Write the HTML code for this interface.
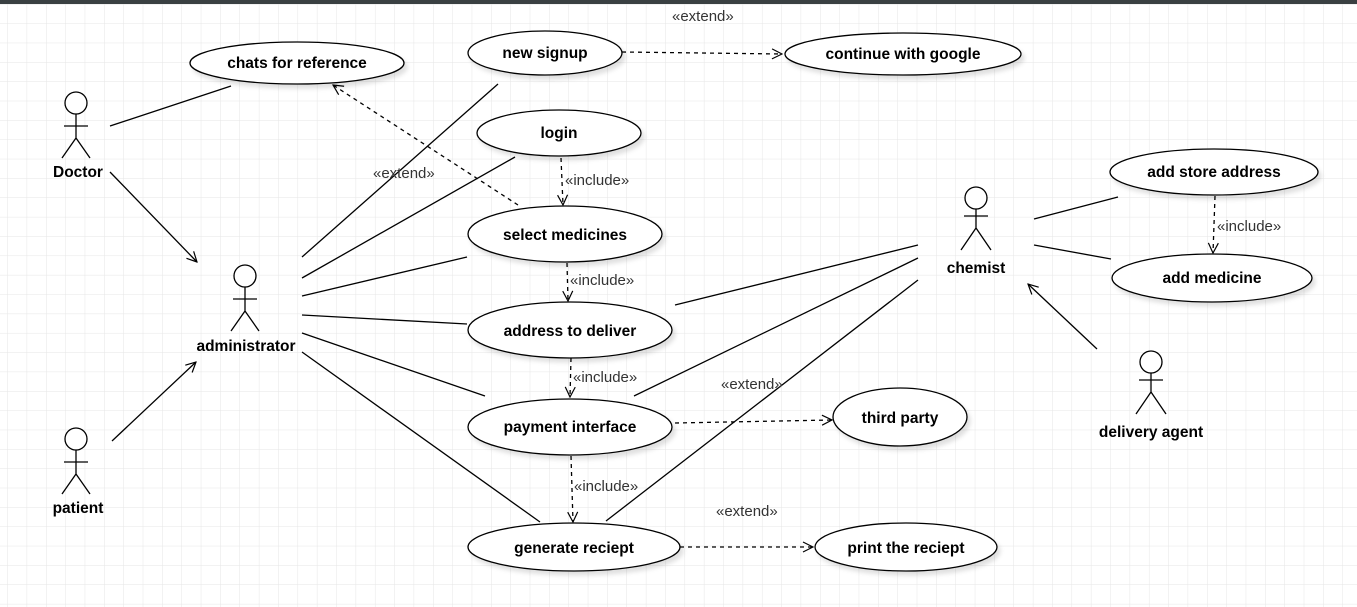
<!DOCTYPE html>
<html><head><meta charset="utf-8"><style>
html,body{margin:0;padding:0;background:#fff}
svg{display:block}
text{font-family:"Liberation Sans",Arial,sans-serif}
.u{font-weight:bold;font-size:15.5px;text-anchor:middle;fill:#000}
.s{font-size:15px;fill:#333}
</style></head><body>
<svg width="1357" height="607" viewBox="0 0 1357 607" xmlns="http://www.w3.org/2000/svg">
<defs>
<pattern id="g" x="7.3" y="4" width="19.35" height="19.35" patternUnits="userSpaceOnUse">
<path d="M0 0V19.35M0 0H19.35" stroke="#e6e6e6" stroke-width="1" fill="none"/>
</pattern>
<marker id="a" viewBox="0 0 12 12" refX="11" refY="6" markerWidth="12" markerHeight="12" orient="auto" markerUnits="userSpaceOnUse">
<path d="M1 1L11 6L1 11" fill="none" stroke="#000" stroke-width="1.2"/>
</marker>
<filter id="sh" x="-10%" y="-20%" width="130%" height="160%"><feDropShadow dx="3" dy="4" stdDeviation="2" flood-color="#000" flood-opacity="0.12"/></filter>
</defs>
<rect width="1357" height="607" fill="#fff"/>
<rect y="4" width="1357" height="603" fill="url(#g)"/>
<rect width="1357" height="4" fill="#3a4042"/>

<g stroke="#000" stroke-width="1.3" fill="none">
<line x1="110" y1="126" x2="231" y2="86"/>
<line x1="110" y1="172" x2="197" y2="262" marker-end="url(#a)"/>
<line x1="112" y1="441" x2="196" y2="362" marker-end="url(#a)"/>
<line x1="302" y1="257" x2="498" y2="84"/>
<line x1="302" y1="278" x2="515" y2="157"/>
<line x1="302" y1="296" x2="467" y2="257"/>
<line x1="302" y1="315" x2="467" y2="324"/>
<line x1="302" y1="333" x2="485" y2="396"/>
<line x1="302" y1="352" x2="540" y2="522"/>
<line x1="675" y1="305" x2="918" y2="245"/>
<line x1="634" y1="396" x2="918" y2="258"/>
<line x1="606" y1="521" x2="918" y2="280"/>
<line x1="1034" y1="219" x2="1118" y2="197"/>
<line x1="1034" y1="245" x2="1111" y2="259"/>
<line x1="1097" y1="349" x2="1028" y2="284" marker-end="url(#a)"/>
<g stroke-dasharray="4,4">
<line x1="622" y1="52" x2="782" y2="54" marker-end="url(#a)"/>
<line x1="518" y1="205" x2="333" y2="85" marker-end="url(#a)"/>
<line x1="561" y1="158" x2="563" y2="205" marker-end="url(#a)"/>
<line x1="567" y1="263" x2="568" y2="301" marker-end="url(#a)"/>
<line x1="571" y1="358" x2="570" y2="397" marker-end="url(#a)"/>
<line x1="571" y1="456" x2="573" y2="522" marker-end="url(#a)"/>
<line x1="675" y1="423" x2="832" y2="420" marker-end="url(#a)"/>
<line x1="680" y1="547" x2="813" y2="547" marker-end="url(#a)"/>
<line x1="1215" y1="196" x2="1213" y2="253" marker-end="url(#a)"/>
</g>
</g>

<g fill="#fff" stroke="#000" stroke-width="1.3" filter="url(#sh)">
<ellipse cx="297" cy="63" rx="107" ry="21"/>
<ellipse cx="545" cy="53" rx="77" ry="22"/>
<ellipse cx="903" cy="54" rx="118" ry="21"/>
<ellipse cx="559" cy="133" rx="82" ry="23"/>
<ellipse cx="565" cy="234" rx="97" ry="28"/>
<ellipse cx="570" cy="330" rx="102" ry="28"/>
<ellipse cx="570" cy="427" rx="102" ry="28"/>
<ellipse cx="574" cy="547" rx="106" ry="24"/>
<ellipse cx="906" cy="547" rx="91" ry="24"/>
<ellipse cx="900" cy="417" rx="67" ry="29"/>
<ellipse cx="1214" cy="172" rx="104" ry="23"/>
<ellipse cx="1212" cy="278" rx="100" ry="24"/>
</g>

<text class="u" x="297" y="68">chats for reference</text>
<text class="u" x="545" y="58">new signup</text>
<text class="u" x="903" y="59">continue with google</text>
<text class="u" x="559" y="138">login</text>
<text class="u" x="565" y="240">select medicines</text>
<text class="u" x="570" y="336">address to deliver</text>
<text class="u" x="570" y="432">payment interface</text>
<text class="u" x="574" y="553">generate reciept</text>
<text class="u" x="906" y="553">print the reciept</text>
<text class="u" x="900" y="423">third party</text>
<text class="u" x="1214" y="177">add store address</text>
<text class="u" x="1212" y="283">add medicine</text>

<text class="s" x="672" y="21">«extend»</text>
<text class="s" x="373" y="178">«extend»</text>
<text class="s" x="565" y="185">«include»</text>
<text class="s" x="570" y="285">«include»</text>
<text class="s" x="573" y="382">«include»</text>
<text class="s" x="574" y="491">«include»</text>
<text class="s" x="721" y="389">«extend»</text>
<text class="s" x="716" y="516">«extend»</text>
<text class="s" x="1217" y="231">«include»</text>

<g stroke="#000" stroke-width="1.3" fill="#fff">
<g transform="translate(76,103)"><circle r="11"/><path d="M0 11V35M-12 23H12M0 35L-14 55M0 35L14 55" fill="none"/></g>
<g transform="translate(245,276)"><circle r="11"/><path d="M0 11V35M-12 23H12M0 35L-14 55M0 35L14 55" fill="none"/></g>
<g transform="translate(76,439)"><circle r="11"/><path d="M0 11V35M-12 23H12M0 35L-14 55M0 35L14 55" fill="none"/></g>
<g transform="translate(976,198)"><circle r="11"/><path d="M0 11V30M-12 18H12M0 30L-15 52M0 30L15 52" fill="none"/></g>
<g transform="translate(1151,362)"><circle r="11"/><path d="M0 11V30M-12 18H12M0 30L-15 52M0 30L15 52" fill="none"/></g>
</g>
<text class="u" x="78" y="177">Doctor</text>
<text class="u" x="246" y="351">administrator</text>
<text class="u" x="78" y="513">patient</text>
<text class="u" x="976" y="273">chemist</text>
<text class="u" x="1151" y="437">delivery agent</text>
</svg>
</body></html>
